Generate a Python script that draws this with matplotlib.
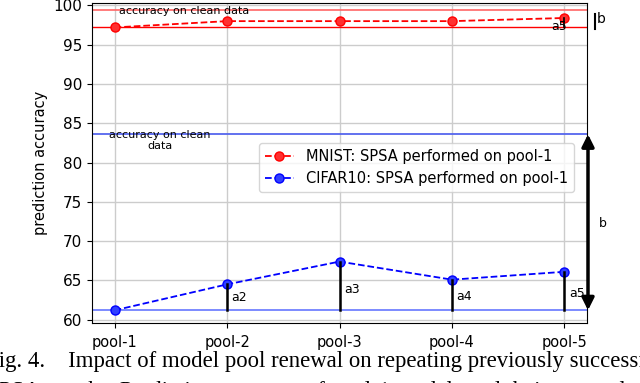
import numpy as np
import matplotlib.pyplot as plt

plt.rcParams["font.family"] = ["DejaVu Sans"]

pools = ["pool-1", "pool-2", "pool-3", "pool-4", "pool-5"]
mnist = [97.2, 98.0, 98.0, 98.0, 98.4]
cifar = [61.2, 64.5, 67.4, 65.1, 66.1]
mnist_clean = 99.4
cifar_clean = 83.6
stem_labels = ["a2", "a3", "a4", "a5"]

fig = plt.figure(figsize=(6.4, 3.83), dpi=100)
ax = fig.add_axes([0.144, 0.157, 0.773, 0.835])
x = np.arange(len(pools))

ax.grid(True, color="#cccccc", linewidth=1.0)
ax.set_axisbelow(True)

# clean-data reference lines
ax.axhline(mnist_clean, color="#ff6666", linewidth=1.2)
ax.axhline(mnist[0], color="red", linewidth=1.0)
ax.axhline(cifar_clean, color="#5566ee", linewidth=1.3)
ax.axhline(cifar[0], color="#6677ff", linewidth=1.2)

ax.plot(x, mnist, "--", color="red", marker="o", ms=6.5, mfc="#ff3030", mec="red",
        linewidth=1.3, label="MNIST: SPSA performed on pool-1")
ax.plot(x, cifar, "--", color="blue", marker="o", ms=6.5, mfc="#3040ff", mec="blue",
        linewidth=1.3, label="CIFAR10: SPSA performed on pool-1")

# stems from pool-1 level
for i, lab in zip(x[1:], stem_labels):
    ax.plot([i, i], [cifar[0], cifar[i]], color="black", linewidth=1.8)
    ax.text(i + 0.04, cifar[0] + (cifar[i] - cifar[0]) * 0.35, lab, fontsize=9)
ax.plot([4, 4], [mnist[0], mnist[4]], color="black", linewidth=1.2)
ax.text(3.88, mnist[0] - 0.35, "a5", fontsize=9)

ax.text(0.62, mnist_clean - 0.1, "accuracy on clean data", fontsize=8,
        ha="center", va="center")
ax.text(0.4, cifar_clean - 0.8, "accuracy on clean\ndata", fontsize=8,
        ha="center", va="center")

# b arrows
ax.annotate("", xy=(4.21, cifar[0]), xytext=(4.21, cifar_clean),
            arrowprops=dict(arrowstyle="<|-|>", color="black", lw=2.5,
                            mutation_scale=18, shrinkA=0, shrinkB=0),
            annotation_clip=False)
ax.text(4.34, 72.3, "b", fontsize=9, ha="center", va="center", clip_on=False)
ax.plot([4.27, 4.27], [mnist[0] - 0.2, mnist_clean - 0.5], color="black",
        linewidth=1.5, clip_on=False)
ax.text(4.33, 98.3, "b", fontsize=10, ha="center", va="center", clip_on=False)

ax.set_xticks(x)
ax.set_xticklabels(pools)
ax.tick_params(axis="x", labelsize=10.5, pad=5)
ax.tick_params(axis="y", labelsize=11)
ax.set_xlim(-0.2, 4.2)
ax.set_ylim(59.6, 100.3)
ax.set_ylabel("prediction accuracy", fontsize=10.5)

ax.legend(loc="upper right", bbox_to_anchor=(0.988, 0.585), fontsize=10.5)

# paper caption (cropped)
fig.text(-0.022, 0.042, "Fig. 4.    Impact of model pool renewal on repeating previously successful",
         fontsize=16.4, family="Liberation Serif", va="baseline", ha="left")
fig.text(-0.022, -0.036, "SPSA attacks. Prediction accuracy of pool-1 models and their renewals.",
         fontsize=16.4, family="Liberation Serif", va="baseline", ha="left")

fig.savefig("out.png", dpi=100)
